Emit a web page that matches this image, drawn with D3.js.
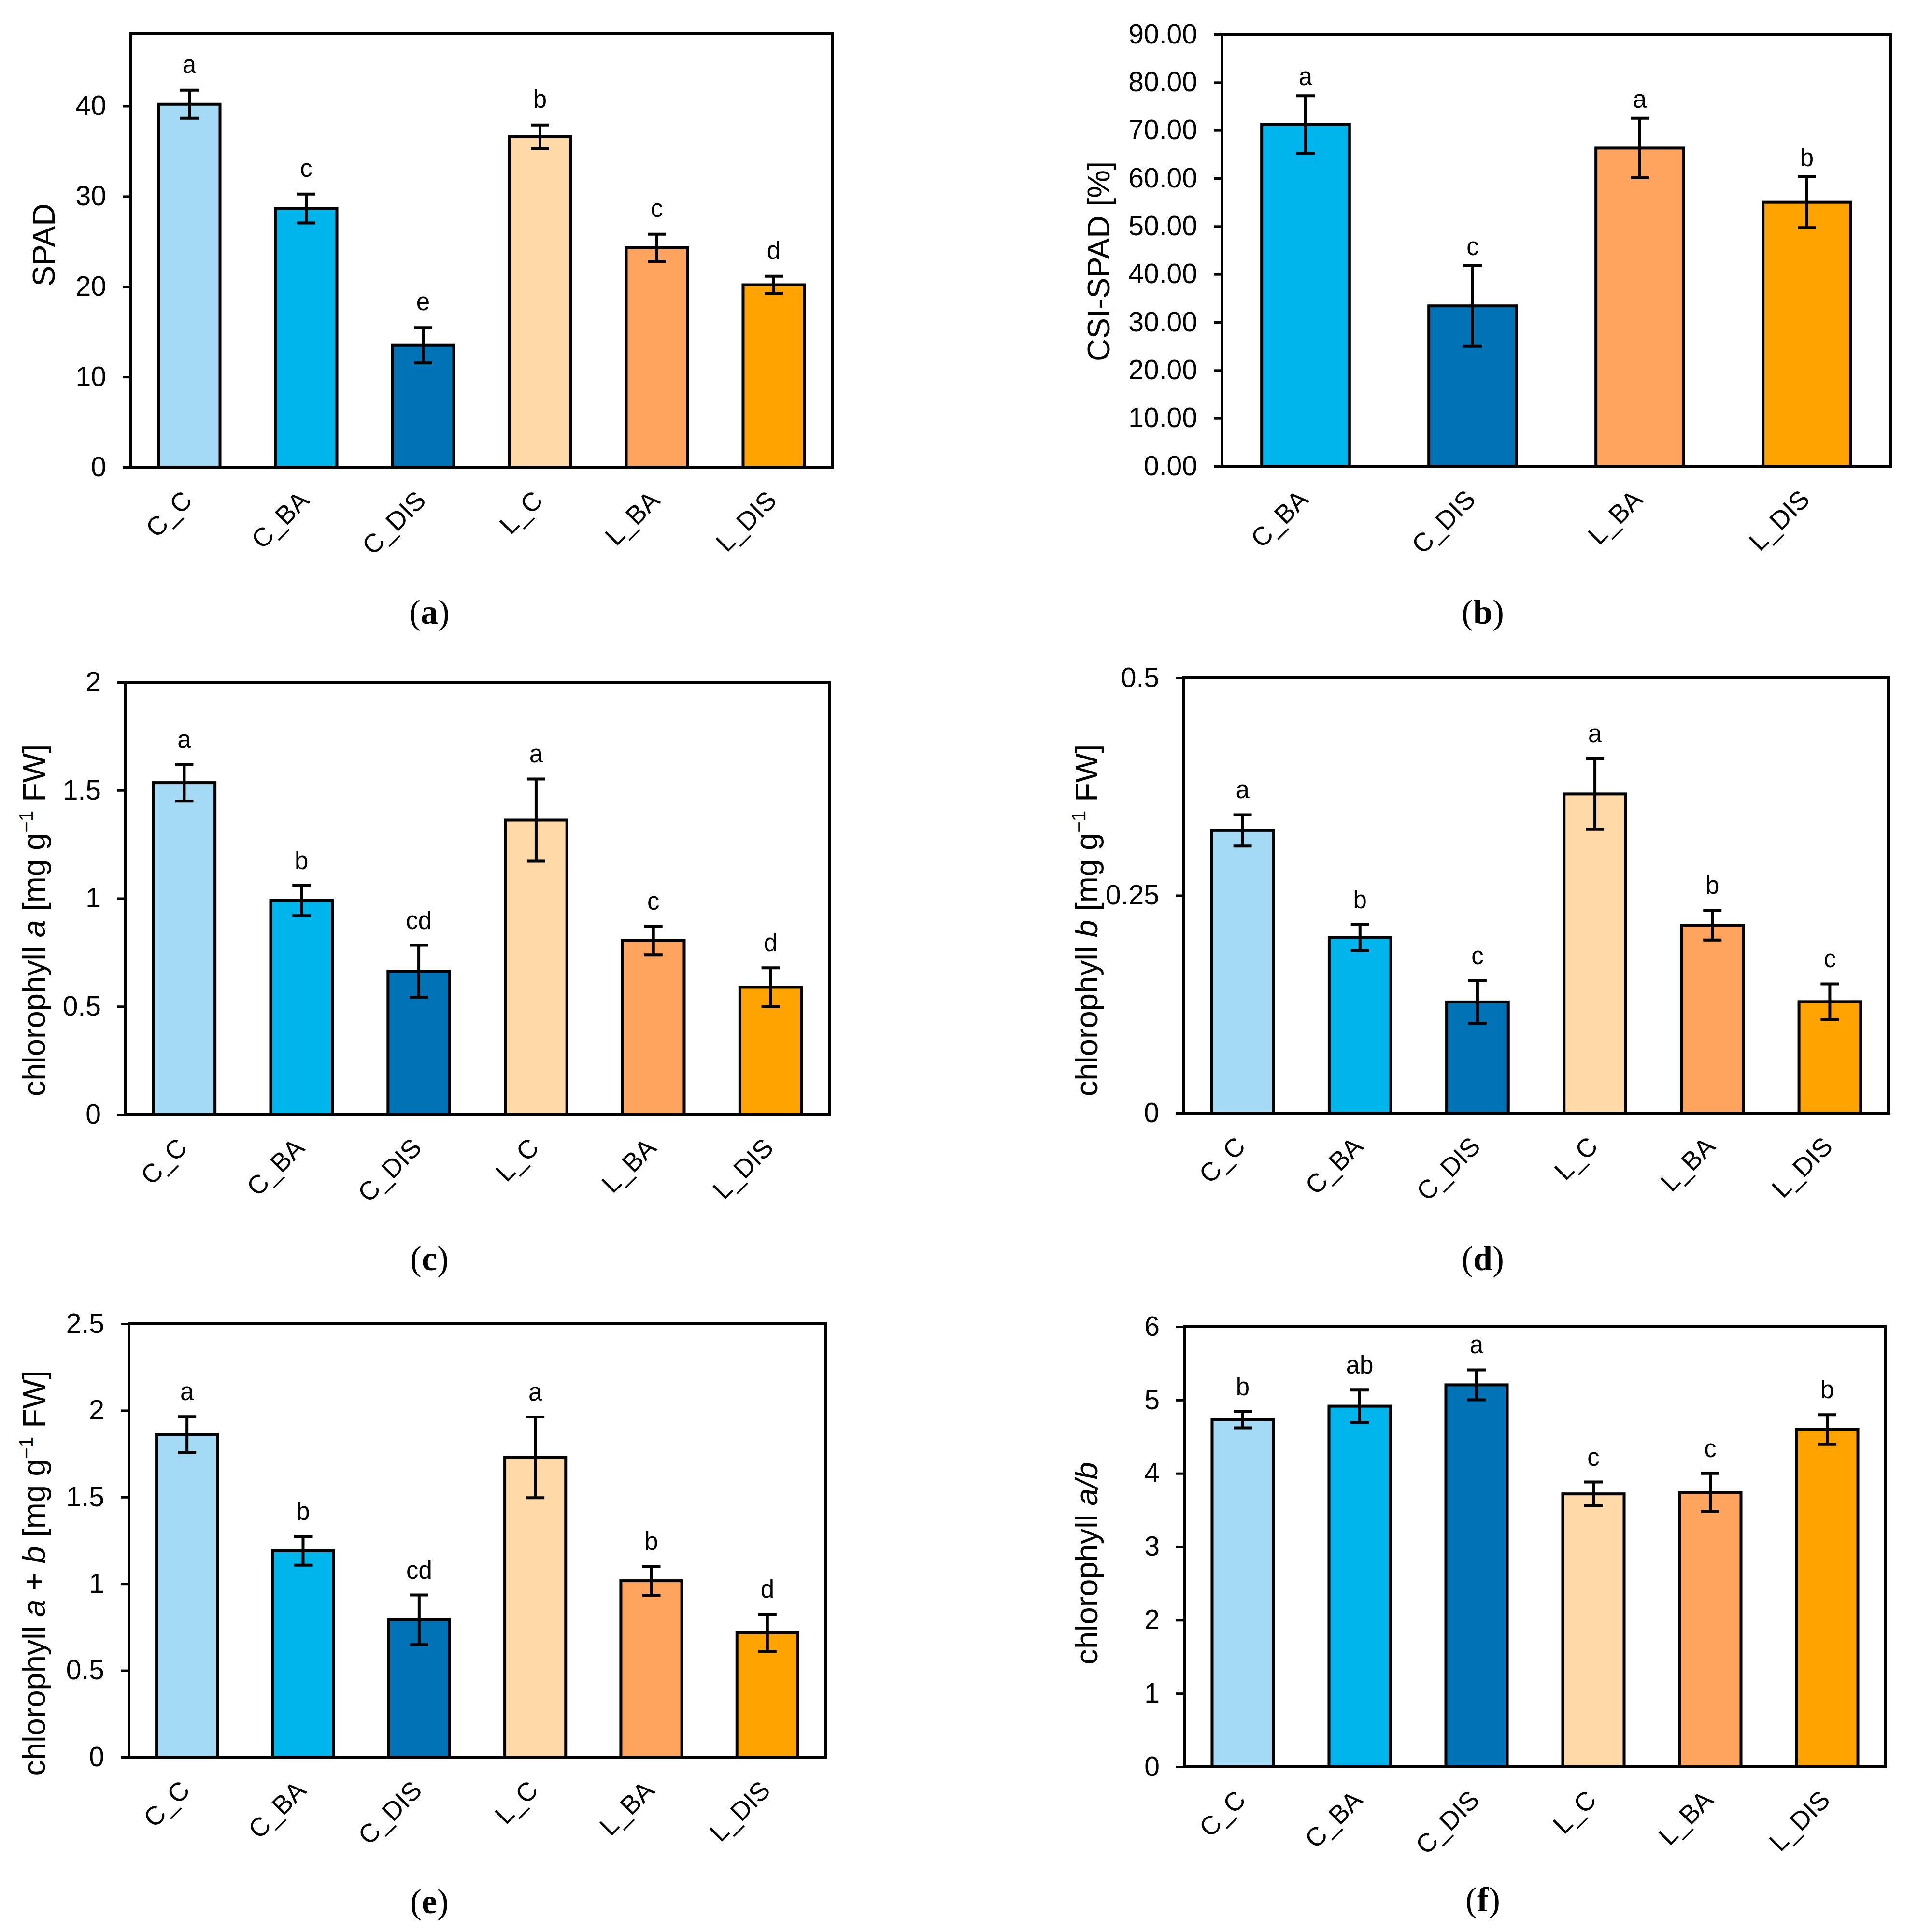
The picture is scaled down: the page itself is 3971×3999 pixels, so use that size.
<!DOCTYPE html>
<html>
<head>
<meta charset="utf-8">
<script src="https://cdn.jsdelivr.net/npm/d3@7"></script>
<style>
  body { margin: 0; background: #fff; }
  text { font-family: "Liberation Sans", Arial, sans-serif; fill: #000; }
</style>
</head>
<body>
<div id="chart"></div>
<script>
// ---- data ----
const groups6 = ["C_C", "C_BA", "C_DIS", "L_C", "L_BA", "L_DIS"];
const groups4 = ["C_BA", "C_DIS", "L_BA", "L_DIS"];
const groupColors = {
    C_C: "#a4daf3", C_BA: "#00b4ec", C_DIS: "#0073b6",
    L_C: "#ffdaa8", L_BA: "#ffa45e", L_DIS: "#ffa300"
};

const spad = [40.2, 28.65, 13.5, 36.6, 24.3, 20.2];
const spadErr = [1.55, 1.6, 1.95, 1.3, 1.5, 0.95];
const spadLetters = ["a", "c", "e", "b", "c", "d"];
const spadTicks = [0, 10, 20, 30, 40];

const csiSpad = [71.2, 33.4, 66.3, 55.0];
const csiSpadErr = [6.0, 8.4, 6.2, 5.3];
const csiLetters = ["a", "c", "a", "b"];
const csiTicks = [0, 10, 20, 30, 40, 50, 60, 70, 80, 90];

const chlA = [1.535, 0.99, 0.663, 1.362, 0.805, 0.589];
const chlAErr = [0.085, 0.07, 0.12, 0.19, 0.066, 0.09];
const chlALetters = ["a", "b", "cd", "a", "c", "d"];
const chlATicks = [0, 0.5, 1, 1.5, 2];

const chlB = [0.3247, 0.2017, 0.1277, 0.3666, 0.2158, 0.128];
const chlBErr = [0.018, 0.015, 0.0245, 0.0407, 0.017, 0.0205];
const chlBLetters = ["a", "b", "c", "a", "b", "c"];
const chlBTicks = [0, 0.25, 0.5];

const chlAB = [1.861, 1.19, 0.792, 1.729, 1.017, 0.717];
const chlABErr = [0.103, 0.083, 0.143, 0.233, 0.083, 0.107];
const chlABLetters = ["a", "b", "cd", "a", "b", "d"];
const chlABTicks = [0, 0.5, 1, 1.5, 2, 2.5];

const chlRatio = [4.731, 4.916, 5.207, 3.72, 3.74, 4.597];
const chlRatioErr = [0.11, 0.22, 0.204, 0.162, 0.26, 0.202];
const chlRatioLetters = ["b", "ab", "a", "c", "c", "b"];
const chlRatioTicks = [0, 1, 2, 3, 4, 5, 6];

// ---- panel layout ----
const width = 3971, height = 3999;

const panels = [
    { id: "a", cats: groups6, vals: spad, errs: spadErr, letters: spadLetters, ticks: spadTicks,
      max: 48, fmt: d3.format("d"), box: [271, 70, 1723, 967], gap: 36,
      label: [["SPAD", false]], labelX: 113, labelY: 507, capX: 889, capY: 1291 },
    { id: "b", cats: groups4, vals: csiSpad, errs: csiSpadErr, letters: csiLetters, ticks: csiTicks,
      max: 90, fmt: d3.format(".2f"), box: [2530, 71, 3914, 965], gap: 22,
      label: [["CSI-SPAD [%]", false]], labelX: 2297, labelY: 541, capX: 3070, capY: 1291 },
    { id: "c", cats: groups6, vals: chlA, errs: chlAErr, letters: chlALetters, ticks: chlATicks,
      max: 2, fmt: d3.format("~g"), box: [260, 1412, 1717, 2307], gap: 34,
      label: "a", labelX: 93, labelY: 1905, capX: 889, capY: 2629 },
    { id: "d", cats: groups6, vals: chlB, errs: chlBErr, letters: chlBLetters, ticks: chlBTicks,
      max: 0.5, fmt: d3.format("~g"), box: [2451, 1403, 3910, 2304], gap: 34,
      label: "b", labelX: 2272, labelY: 1905, capX: 3070, capY: 2629 },
    { id: "e", cats: groups6, vals: chlAB, errs: chlABErr, letters: chlABLetters, ticks: chlABTicks,
      max: 2.5, fmt: d3.format("~g"), box: [267, 2740, 1709, 3637], gap: 34,
      label: "a+b", labelX: 93, labelY: 3256, capX: 889, capY: 3960 },
    { id: "f", cats: groups6, vals: chlRatio, errs: chlRatioErr, letters: chlRatioLetters, ticks: chlRatioTicks,
      max: 6, fmt: d3.format("d"), box: [2452, 2746, 3904, 3657], gap: 34,
      label: "ratio", labelX: 2272, labelY: 3236, capX: 3070, capY: 3956 }
];

const svg = d3.select("#chart")
    .append("svg")
    .attr("width", width)
    .attr("height", height)
    .attr("viewBox", `0 0 ${width} ${height}`);

svg.append("rect").attr("width", width).attr("height", height).attr("fill", "#fff");

// y axis title with italic parts and superscript
const writeLabel = (t, kind) => {
    const plain = s => t.append("tspan").text(s);
    const ital = s => t.append("tspan").attr("font-style", "italic").text(s);
    const unit = () => {
        plain(" [mg g");
        t.append("tspan").attr("font-size", "0.62em").attr("dy", "-0.62em").text("\u22121");
        t.append("tspan").attr("dy", "0.385em").text(" FW]");
    };
    if (Array.isArray(kind)) { plain(kind[0][0]); return; }
    if (kind === "a") { plain("chlorophyll "); ital("a"); unit(); }
    if (kind === "b") { plain("chlorophyll "); ital("b"); unit(); }
    if (kind === "a+b") { plain("chlorophyll "); ital("a"); plain(" + "); ital("b"); unit(); }
    if (kind === "ratio") { plain("chlorophyll "); ital("a/b"); }
};

const drawPanel = (p) => {
    const [x0, y0, x1, y1] = p.box;
    const g = svg.append("g").attr("class", "panel-" + p.id);

    const x = d3.scaleBand()
        .domain(p.cats)
        .range([x0, x1])
        .paddingInner(0.475)
        .paddingOuter(0.2375);

    const y = d3.scaleLinear()
        .domain([0, p.max])
        .range([y1, y0]);

    const rows = p.cats.map((c, i) => ({ cat: c, v: p.vals[i], e: p.errs[i], l: p.letters[i] }));

    // Y axis
    const axis = g.append("g")
        .attr("transform", `translate(${x0},0)`)
        .call(d3.axisLeft(y).tickValues(p.ticks).tickFormat(p.fmt).tickSize(17).tickPadding(34));
    axis.select(".domain").remove();
    axis.selectAll(".tick line").attr("stroke", "#000").attr("stroke-width", 5);
    axis.selectAll(".tick text")
        .attr("font-family", "Liberation Sans, Arial, sans-serif")
        .attr("font-size", 57)
        .attr("fill", "#000");

    // Bars
    g.selectAll("rect.bar")
        .data(rows)
        .join("rect")
        .attr("class", "bar")
        .attr("x", d => x(d.cat))
        .attr("y", d => y(d.v))
        .attr("width", x.bandwidth())
        .attr("height", d => y(0) - y(d.v))
        .attr("fill", d => groupColors[d.cat])
        .attr("stroke", "#000")
        .attr("stroke-width", 6);

    // Error bars
    const cx = d => x(d.cat) + x.bandwidth() / 2;
    const err = g.selectAll("g.err")
        .data(rows)
        .join("g")
        .attr("class", "err")
        .attr("stroke", "#000")
        .attr("stroke-width", 6);
    err.append("line")
        .attr("x1", cx).attr("x2", cx)
        .attr("y1", d => y(d.v - d.e)).attr("y2", d => y(d.v + d.e));
    err.append("line")
        .attr("x1", d => cx(d) - 19).attr("x2", d => cx(d) + 19)
        .attr("y1", d => y(d.v + d.e)).attr("y2", d => y(d.v + d.e));
    err.append("line")
        .attr("x1", d => cx(d) - 19).attr("x2", d => cx(d) + 19)
        .attr("y1", d => y(d.v - d.e)).attr("y2", d => y(d.v - d.e));

    // Significance letters
    g.selectAll("text.letter")
        .data(rows)
        .join("text")
        .attr("class", "letter")
        .attr("x", cx)
        .attr("y", d => y(d.v + d.e) - p.gap)
        .attr("text-anchor", "middle")
        .attr("font-size", 51)
        .text(d => d.l);

    // Frame
    g.append("rect")
        .attr("x", x0).attr("y", y0)
        .attr("width", x1 - x0).attr("height", y1 - y0)
        .attr("fill", "none")
        .attr("stroke", "#000")
        .attr("stroke-width", 6);

    // Rotated category labels
    g.selectAll("text.cat")
        .data(rows)
        .join("text")
        .attr("class", "cat")
        .attr("transform", d => `translate(${cx(d) + 9},${y1 + 72}) rotate(-45)`)
        .attr("text-anchor", "end")
        .attr("font-size", 54)
        .text(d => d.cat);

    // Y axis title
    const t = g.append("text")
        .attr("transform", `translate(${p.labelX},${p.labelY}) rotate(-90)`)
        .attr("text-anchor", "middle")
        .attr("font-size", 65);
    writeLabel(t, p.label);

    // Panel caption
    const cap = g.append("text")
        .attr("x", p.capX).attr("y", p.capY)
        .attr("text-anchor", "middle")
        .attr("font-size", 72)
        .style("font-family", "'Liberation Serif', 'Times New Roman', serif");
    cap.append("tspan").text("(");
    cap.append("tspan").attr("font-weight", "bold").text(p.id);
    cap.append("tspan").text(")");
};

panels.forEach(drawPanel);
</script>
</body>
</html>
